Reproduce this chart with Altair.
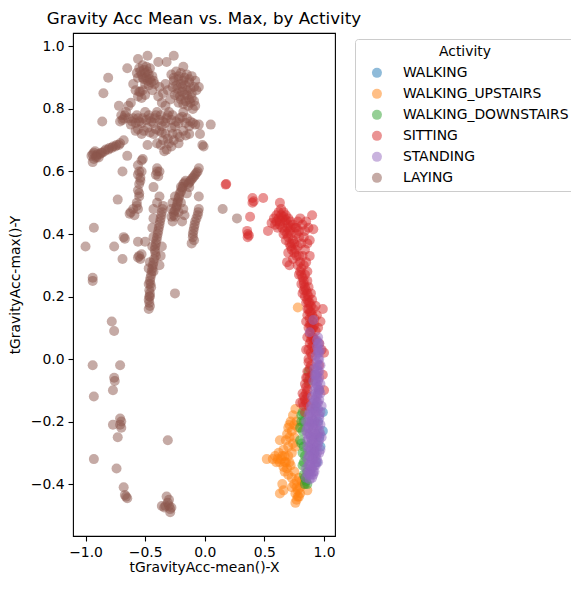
import altair as alt
import pandas as pd

activities = ["WALKING", "WALKING_UPSTAIRS", "WALKING_DOWNSTAIRS", "SITTING", "STANDING", "LAYING"]
colors = ["#1f77b4", "#ff7f0e", "#2ca02c", "#d62728", "#9467bd", "#8c564b"]

laying_pts = [
    (-0.56, 0.96), (-0.48, 0.97), (-0.26, 0.97), (-0.39, 0.95), (-0.32, 0.95), (-0.65, 0.93),
    (-0.18, 0.935), (-0.81, 0.90), (-0.85, 0.85), (-0.72, 0.81), (-0.62, 0.82), (-0.64, 0.81),
    (-0.86, 0.76), (0.05, 0.75), (-0.01, 0.68), (-0.04, 0.72), (-0.05, 0.87), (-0.02, 0.685),
    (-0.65, 0.65), (-0.48, 0.685), (-0.60, 0.88), (-0.44, 0.86),
    (-0.55, 0.93), (-0.52, 0.94), (-0.49, 0.935), (-0.46, 0.93), (-0.53, 0.91), (-0.50, 0.915),
    (-0.47, 0.91), (-0.44, 0.905), (-0.51, 0.895), (-0.48, 0.89), (-0.45, 0.885), (-0.42, 0.88),
    (-0.56, 0.90),
    (-0.54, 0.92), (-0.51, 0.925), (-0.48, 0.92), (-0.52, 0.90), (-0.49, 0.90), (-0.46, 0.895),
    (-0.50, 0.88), (-0.47, 0.875), (-0.43, 0.89), (-0.57, 0.915),
    (-0.38, 0.87), (-0.35, 0.85), (-0.33, 0.88), (-0.36, 0.82), (-0.33, 0.81), (-0.39, 0.84),
    (-0.31, 0.86),
    (-0.28, 0.91), (-0.24, 0.92), (-0.20, 0.915), (-0.15, 0.91), (-0.11, 0.905), (-0.08, 0.89),
    (-0.26, 0.89), (-0.22, 0.895), (-0.18, 0.89), (-0.13, 0.885), (-0.09, 0.87), (-0.27, 0.87),
    (-0.23, 0.865), (-0.19, 0.87), (-0.15, 0.86), (-0.11, 0.85), (-0.25, 0.845), (-0.21, 0.84),
    (-0.17, 0.845), (-0.13, 0.83), (-0.09, 0.825), (-0.22, 0.82), (-0.18, 0.815), (-0.14, 0.81),
    (-0.10, 0.80), (-0.29, 0.83),
    (-0.26, 0.90), (-0.22, 0.905), (-0.17, 0.90), (-0.13, 0.895), (-0.24, 0.875), (-0.20, 0.88),
    (-0.16, 0.875), (-0.12, 0.865), (-0.23, 0.85), (-0.19, 0.855), (-0.15, 0.845), (-0.11, 0.835),
    (-0.20, 0.83), (-0.16, 0.825), (-0.12, 0.82), (-0.07, 0.86), (-0.08, 0.81),
    (-0.58, 0.86), (-0.55, 0.855), (-0.52, 0.86), (-0.56, 0.84), (-0.53, 0.835), (-0.50, 0.845),
    (-0.54, 0.855),
    (-0.70, 0.78), (-0.68, 0.77), (-0.71, 0.76), (-0.66, 0.79), (-0.62, 0.75), (-0.60, 0.77),
    (-0.57, 0.78), (-0.55, 0.76), (-0.52, 0.77), (-0.50, 0.79), (-0.47, 0.78), (-0.45, 0.76),
    (-0.42, 0.77), (-0.40, 0.79), (-0.37, 0.78), (-0.35, 0.76), (-0.32, 0.77), (-0.30, 0.79),
    (-0.27, 0.78), (-0.24, 0.76), (-0.21, 0.77), (-0.18, 0.79), (-0.15, 0.77), (-0.12, 0.76),
    (-0.08, 0.75), (-0.05, 0.75), (-0.58, 0.73), (-0.53, 0.72), (-0.48, 0.74), (-0.43, 0.72),
    (-0.38, 0.73), (-0.33, 0.72), (-0.28, 0.74), (-0.23, 0.72), (-0.18, 0.73), (-0.13, 0.72),
    (-0.35, 0.70), (-0.30, 0.69), (-0.26, 0.70), (-0.40, 0.69), (-0.22, 0.69), (-0.32, 0.67),
    (-0.69, 0.765), (-0.67, 0.78), (-0.64, 0.77), (-0.61, 0.76), (-0.58, 0.755), (-0.56, 0.77),
    (-0.53, 0.755), (-0.49, 0.765), (-0.46, 0.77), (-0.43, 0.755), (-0.41, 0.78), (-0.38, 0.765),
    (-0.36, 0.745), (-0.33, 0.755), (-0.31, 0.78), (-0.28, 0.765), (-0.25, 0.745), (-0.22, 0.755),
    (-0.19, 0.775), (-0.16, 0.755), (-0.13, 0.745), (-0.10, 0.755), (-0.56, 0.735), (-0.51, 0.73),
    (-0.46, 0.725), (-0.41, 0.735), (-0.36, 0.725), (-0.31, 0.705), (-0.27, 0.72), (-0.21, 0.71),
    (-0.16, 0.715), (-0.37, 0.685), (-0.28, 0.68), (-0.34, 0.665),
    (-0.94, 0.655), (-0.91, 0.65), (-0.88, 0.655), (-0.92, 0.665), (-0.86, 0.66), (-0.83, 0.67),
    (-0.80, 0.675), (-0.77, 0.68), (-0.74, 0.685), (-0.71, 0.69), (-0.68, 0.70), (-0.89, 0.645),
    (-0.93, 0.64), (-0.94, 0.63), (-0.69, 0.60), (-0.52, 0.64), (-0.53, 0.635),
    (-0.93, 0.66), (-0.90, 0.655), (-0.87, 0.66), (-0.84, 0.665), (-0.81, 0.67), (-0.78, 0.675),
    (-0.75, 0.68), (-0.72, 0.685), (-0.95, 0.65), (-0.91, 0.645),
    (-0.56, 0.62), (-0.55, 0.60), (-0.54, 0.58), (-0.55, 0.56), (-0.56, 0.54), (-0.55, 0.52),
    (-0.57, 0.50), (-0.56, 0.48), (-0.54, 0.57), (-0.56, 0.59), (-0.55, 0.53), (-0.57, 0.49),
    (-0.60, 0.48), (-0.62, 0.47), (-0.59, 0.46), (-0.63, 0.465), (-0.53, 0.60),
    (-0.56, 0.375), (-0.50, 0.375), (-0.68, 0.39), (-0.67, 0.385),
    (-0.55, 0.33), (-0.54, 0.32), (-0.56, 0.325), (-0.53, 0.335),
    (-0.40, 0.61), (-0.38, 0.60), (-0.39, 0.585), (-0.41, 0.59), (-0.40, 0.60),
    (-0.43, 0.55), (-0.38, 0.52), (-0.40, 0.50), (-0.43, 0.48),
    (-0.35, 0.49), (-0.36, 0.47), (-0.37, 0.45), (-0.38, 0.43), (-0.39, 0.41), (-0.40, 0.39),
    (-0.41, 0.37), (-0.42, 0.35), (-0.41, 0.33), (-0.43, 0.31), (-0.44, 0.29), (-0.45, 0.27),
    (-0.46, 0.25), (-0.45, 0.23), (-0.46, 0.21), (-0.47, 0.19), (-0.46, 0.17), (-0.47, 0.16),
    (-0.355, 0.48), (-0.365, 0.46), (-0.375, 0.44), (-0.385, 0.42), (-0.395, 0.40), (-0.405, 0.38),
    (-0.415, 0.36), (-0.415, 0.34), (-0.425, 0.32), (-0.435, 0.30), (-0.445, 0.28), (-0.455, 0.26),
    (-0.455, 0.24), (-0.465, 0.22), (-0.465, 0.20), (-0.465, 0.18),
    (-0.43, 0.45), (-0.44, 0.42), (-0.43, 0.39), (-0.44, 0.36), (-0.36, 0.36), (-0.37, 0.33),
    (-0.38, 0.30), (-0.46, 0.31), (-0.47, 0.29), (-0.43, 0.28),
    (-0.16, 0.57), (-0.18, 0.56), (-0.19, 0.545), (-0.21, 0.53), (-0.22, 0.515), (-0.23, 0.50),
    (-0.24, 0.485), (-0.26, 0.47), (-0.25, 0.455), (-0.27, 0.44), (-0.28, 0.455), (-0.20, 0.55),
    (-0.17, 0.565), (-0.185, 0.55), (-0.20, 0.535), (-0.215, 0.52), (-0.225, 0.505), (-0.235, 0.49),
    (-0.25, 0.475), (-0.26, 0.46),
    (-0.27, 0.50), (-0.28, 0.48), (-0.25, 0.52), (-0.20, 0.50), (-0.18, 0.48), (-0.17, 0.46),
    (-0.19, 0.44), (-0.22, 0.47), (-0.15, 0.53), (-0.13, 0.55),
    (-0.06, 0.60), (-0.08, 0.59), (-0.10, 0.58), (-0.12, 0.57), (-0.14, 0.56), (-0.05, 0.61),
    (-0.07, 0.595), (-0.09, 0.585), (-0.11, 0.575), (-0.13, 0.565),
    (-0.05, 0.48), (-0.06, 0.46), (-0.08, 0.44), (-0.09, 0.42), (-0.10, 0.40), (-0.09, 0.38),
    (-0.11, 0.37), (-0.05, 0.52),
    (-0.055, 0.47), (-0.07, 0.45), (-0.085, 0.43), (-0.095, 0.41), (-0.10, 0.39),
    (-0.73, 0.51), (-0.93, 0.42), (-1.0, 0.36), (-0.76, 0.36), (-0.69, 0.32), (-0.94, 0.26),
    (0.15, 0.48), (0.27, 0.45),
    (-0.47, 0.24), (-0.46, 0.20), (-0.25, 0.21), (-0.94, 0.25), (-0.78, 0.12), (-0.76, 0.09),
    (-0.94, -0.02), (-0.71, -0.02), (-0.76, -0.06), (-0.755, -0.07), (-0.77, -0.10), (-0.93, -0.12),
    (-0.71, -0.19), (-0.70, -0.20), (-0.71, -0.21), (-0.70, -0.22), (-0.77, -0.21), (-0.73, -0.25),
    (-0.31, -0.26), (-0.93, -0.32), (-0.74, -0.35), (-0.68, -0.41), (-0.66, -0.44), (-0.65, -0.445),
    (-0.67, -0.435),
    (-0.36, -0.47), (-0.34, -0.475), (-0.33, -0.47), (-0.31, -0.46), (-0.30, -0.45), (-0.30, -0.47),
    (-0.29, -0.48), (-0.28, -0.475), (-0.29, -0.49), (-0.32, -0.44),
]

walking_pts = [
    (0.93, -0.15), (0.95, -0.20), (0.96, -0.25), (0.97, -0.28), (0.99, -0.17), (0.99, -0.23),
    (0.96, -0.10), (0.92, -0.30), (0.94, -0.33),
]

upstairs_pts = [
    (0.72, -0.20), (0.74, -0.18), (0.76, -0.16), (0.70, -0.22), (0.73, -0.23), (0.63, -0.26),
    (0.68, -0.26), (0.70, -0.28), (0.66, -0.29), (0.62, -0.30), (0.59, -0.31), (0.57, -0.32),
    (0.60, -0.33), (0.64, -0.32), (0.67, -0.33), (0.70, -0.31), (0.73, -0.30), (0.66, -0.345),
    (0.69, -0.35), (0.72, -0.34), (0.75, -0.36), (0.65, -0.40), (0.66, -0.42), (0.63, -0.43),
    (0.73, -0.41), (0.76, -0.43), (0.78, -0.42), (0.80, -0.41), (0.83, -0.40), (0.86, -0.42),
    (0.77, -0.45), (0.76, -0.46), (0.79, -0.44), (0.78, 0.165), (0.79, -0.38), (0.77, -0.39),
    (0.75, -0.25), (0.78, -0.22), (0.52, -0.32),
    (0.71, -0.21), (0.69, -0.24), (0.71, -0.25), (0.67, -0.31), (0.65, -0.31), (0.63, -0.33),
    (0.61, -0.32), (0.68, -0.33), (0.71, -0.33), (0.67, -0.36), (0.70, -0.37), (0.73, -0.38),
    (0.75, -0.40), (0.77, -0.41), (0.78, -0.44), (0.80, -0.43), (0.81, -0.39), (0.74, -0.27),
    (0.76, -0.28), (0.77, -0.20), (0.75, -0.21),
]

downstairs_pts = [
    (0.82, -0.17), (0.81, -0.20), (0.82, -0.23), (0.80, -0.26), (0.83, -0.28), (0.84, -0.31),
    (0.82, -0.34), (0.83, -0.37), (0.85, -0.39), (0.84, -0.40), (0.87, -0.04), (0.87, -0.07),
    (0.83, -0.20), (0.82, -0.30), (0.86, -0.36),
    (0.81, -0.18), (0.80, -0.22), (0.81, -0.27), (0.83, -0.33), (0.84, -0.38), (0.86, -0.40),
]

sitting_pts = [
    (0.18, 0.56), (0.175, 0.558), (0.40, 0.515), (0.40, 0.50), (0.41, 0.505), (0.49, 0.515),
    (0.63, 0.50), (0.36, 0.40), (0.36, 0.39), (0.37, 0.395), (0.38, 0.455), (0.56, 0.435),
    (0.53, 0.41), (0.355, 0.41),
    (0.58, 0.45), (0.60, 0.44), (0.62, 0.47), (0.64, 0.48), (0.66, 0.47), (0.68, 0.46),
    (0.70, 0.45), (0.72, 0.44), (0.65, 0.45), (0.63, 0.43), (0.61, 0.42), (0.59, 0.43),
    (0.67, 0.44), (0.74, 0.43), (0.76, 0.42), (0.78, 0.44), (0.80, 0.45), (0.82, 0.43),
    (0.85, 0.44), (0.87, 0.42), (0.84, 0.41), (0.69, 0.42), (0.66, 0.40), (0.68, 0.38),
    (0.70, 0.39), (0.72, 0.40), (0.74, 0.38), (0.77, 0.40), (0.79, 0.39), (0.81, 0.37),
    (0.78, 0.36), (0.76, 0.35), (0.72, 0.36), (0.70, 0.34), (0.74, 0.32), (0.77, 0.33),
    (0.80, 0.31), (0.82, 0.33), (0.84, 0.35), (0.78, 0.30), (0.69, 0.31), (0.71, 0.30),
    (0.90, 0.46), (0.91, 0.415), (0.88, 0.38), (0.88, 0.33),
    (0.80, 0.28), (0.82, 0.26), (0.84, 0.27), (0.86, 0.25), (0.83, 0.24), (0.85, 0.22),
    (0.87, 0.23), (0.89, 0.21), (0.84, 0.20), (0.86, 0.19), (0.88, 0.18), (0.90, 0.19),
    (0.87, 0.16), (0.89, 0.15), (0.91, 0.16), (0.93, 0.17), (0.88, 0.13), (0.90, 0.12),
    (0.92, 0.13), (0.94, 0.14), (0.85, 0.12), (0.87, 0.10), (0.89, 0.09), (0.91, 0.10),
    (0.93, 0.09), (0.95, 0.10), (0.99, 0.16), (0.97, 0.12),
    (0.86, 0.07), (0.88, 0.05), (0.90, 0.04), (0.92, 0.06), (0.96, 0.05), (0.98, 0.03),
    (1.0, 0.02), (0.85, 0.03), (0.87, 0.00), (0.89, -0.02), (0.86, -0.04), (0.88, -0.06),
    (0.84, -0.08), (0.86, -0.10), (0.83, -0.12), (0.85, -0.14), (0.82, -0.11), (0.80, -0.14),
    (0.99, -0.05), (1.0, -0.10), (0.84, -0.17), (0.87, -0.15), (0.96, -0.02),
    (0.60, 0.46), (0.62, 0.45), (0.64, 0.46), (0.66, 0.455), (0.68, 0.445), (0.70, 0.43),
    (0.72, 0.42), (0.71, 0.41), (0.69, 0.40), (0.67, 0.41), (0.65, 0.42), (0.63, 0.44),
    (0.73, 0.37), (0.75, 0.37), (0.75, 0.34), (0.73, 0.35), (0.71, 0.37), (0.79, 0.33),
    (0.81, 0.29), (0.79, 0.27), (0.81, 0.24), (0.83, 0.22), (0.82, 0.21), (0.85, 0.18),
    (0.87, 0.20), (0.86, 0.14), (0.88, 0.15), (0.90, 0.14), (0.89, 0.11), (0.91, 0.07),
    (0.93, 0.06), (0.90, 0.07), (0.88, 0.08), (0.92, 0.03), (0.90, 0.01), (0.88, -0.03),
    (0.90, -0.05), (0.87, -0.08), (0.85, -0.06), (0.86, -0.12), (0.84, -0.13), (0.77, 0.42),
    (0.79, 0.41), (0.83, 0.39), (0.86, 0.37), (0.83, 0.30), (0.85, 0.31), (0.86, 0.28),
    (0.81, 0.27), (0.83, 0.25), (0.84, 0.23), (0.86, 0.21), (0.87, 0.18), (0.89, 0.17),
    (0.86, 0.16), (0.88, 0.11), (0.90, 0.10), (0.92, 0.11), (0.89, 0.06), (0.91, 0.05),
    (0.87, 0.03), (0.89, 0.02), (0.87, -0.01), (0.86, -0.06), (0.85, -0.09), (0.85, -0.11),
    (0.83, -0.15), (0.82, -0.14),
]

standing_pts = [
    (0.91, 0.125), (0.88, 0.086),
    (0.95, 0.07), (0.96, 0.05), (0.94, 0.04), (0.97, 0.03), (0.95, 0.02), (0.93, 0.01),
    (0.96, 0.00), (0.94, -0.01), (0.97, -0.02), (0.92, -0.03), (0.95, -0.04), (0.93, -0.05),
    (0.96, -0.06), (0.91, -0.07), (0.94, -0.08), (0.97, -0.08), (0.92, -0.10), (0.95, -0.11),
    (0.90, -0.12), (0.93, -0.13), (0.96, -0.13), (0.89, -0.15), (0.92, -0.16), (0.95, -0.16),
    (0.98, -0.15), (0.87, -0.18), (0.90, -0.19), (0.93, -0.19), (0.96, -0.19), (0.85, -0.20),
    (0.88, -0.21), (0.91, -0.22), (0.94, -0.22), (0.97, -0.21), (0.85, -0.23), (0.88, -0.24),
    (0.91, -0.25), (0.94, -0.25), (0.97, -0.24), (0.86, -0.26), (0.89, -0.27), (0.92, -0.28),
    (0.95, -0.27), (0.87, -0.29), (0.90, -0.30), (0.93, -0.31), (0.96, -0.30), (0.86, -0.32),
    (0.89, -0.33), (0.92, -0.34), (0.95, -0.33), (0.85, -0.35), (0.88, -0.36), (0.91, -0.36),
    (0.85, -0.38), (0.88, -0.385), (0.91, -0.37),
    (0.94, 0.06), (0.96, 0.02), (0.94, -0.03), (0.96, -0.04), (0.93, -0.07), (0.95, -0.09),
    (0.93, -0.11), (0.91, -0.14), (0.94, -0.14), (0.97, -0.17), (0.91, -0.17), (0.89, -0.20),
    (0.92, -0.20), (0.95, -0.21), (0.87, -0.22), (0.90, -0.23), (0.93, -0.24), (0.96, -0.23),
    (0.87, -0.25), (0.90, -0.26), (0.93, -0.27), (0.96, -0.26), (0.88, -0.28), (0.91, -0.29),
    (0.94, -0.30), (0.88, -0.31), (0.91, -0.32), (0.94, -0.32), (0.87, -0.34), (0.90, -0.35),
    (0.93, -0.34), (0.87, -0.37), (0.90, -0.38), (0.86, -0.365),
    (0.95, 0.05), (0.95, 0.03), (0.95, 0.00), (0.95, -0.02), (0.94, -0.05), (0.94, -0.06),
    (0.95, -0.07), (0.93, -0.09), (0.96, -0.10), (0.94, -0.12), (0.92, -0.13), (0.95, -0.14),
    (0.90, -0.16), (0.93, -0.17), (0.96, -0.18), (0.89, -0.18), (0.92, -0.21), (0.90, -0.21),
    (0.95, -0.24), (0.92, -0.24), (0.89, -0.25), (0.91, -0.27), (0.94, -0.28), (0.89, -0.29),
    (0.92, -0.30), (0.90, -0.32), (0.93, -0.33), (0.89, -0.35), (0.92, -0.36), (0.89, -0.37),
    (0.88, -0.34), (0.87, -0.31), (0.86, -0.28), (0.86, -0.24), (0.86, -0.22), (0.87, -0.20),
    (0.88, -0.17), (0.92, -0.05), (0.97, -0.11), (0.98, -0.25), (0.97, -0.29),
]

x_ticks = [-1.0, -0.5, 0.0, 0.5, 1.0]
y_ticks = [-0.4, -0.2, 0.0, 0.2, 0.4, 0.6, 0.8, 1.0]

groups = [
    ("LAYING", laying_pts),
    ("WALKING", walking_pts),
    ("WALKING_UPSTAIRS", upstairs_pts),
    ("WALKING_DOWNSTAIRS", downstairs_pts),
    ("SITTING", sitting_pts),
    ("STANDING", standing_pts),
]
rows = []
for name, pts in groups:
    for x, y in pts:
        rows.append({"mean_x": x, "max_y": y, "Activity": name})
df = pd.DataFrame(rows)

FONT = "DejaVu Sans"

chart = alt.Chart(df).mark_circle(size=100, opacity=0.5, strokeWidth=0).encode(
    x=alt.X("mean_x:Q", title="tGravityAcc-mean()-X",
            scale=alt.Scale(domain=[-1.105, 1.092], nice=False, zero=False),
            axis=alt.Axis(values=x_ticks, format=".1f", titlePadding=2)),
    y=alt.Y("max_y:Q", title="tGravityAcc-max()-Y",
            scale=alt.Scale(domain=[-0.566, 1.043], nice=False, zero=False),
            axis=alt.Axis(values=y_ticks, format=".1f", titlePadding=8)),
    color=alt.Color("Activity:N",
                    scale=alt.Scale(domain=activities, range=colors),
                    legend=alt.Legend(
                        title="Activity", orient="none", legendX=282, legendY=6,
                        symbolType="circle", symbolSize=100, symbolOpacity=0.5,
                        symbolStrokeWidth=0, symbolOffset=9,
                        labelFontSize=13.9, labelFont=FONT, labelColor="black",
                        labelOffset=19, rowPadding=6, labelLimit=400,
                        titleFontSize=13.9, titleFont=FONT, titleFontWeight="normal",
                        titleColor="black", titleAnchor="middle", titlePadding=7,
                        padding=6, strokeColor="#cccccc", fillColor="white",
                        cornerRadius=3)),
).properties(
    width=262, height=503,
    title=alt.Title("Gravity Acc Mean vs. Max, by Activity", font=FONT, fontSize=16.7,
                    fontWeight="normal", color="black", anchor="middle", offset=5),
    autosize=alt.AutoSizeParams(type="none"),
    padding={"left": 65, "top": 25, "right": 236, "bottom": 46},
).configure_view(
    stroke="black", strokeWidth=1.1
).configure_axis(
    domain=False, grid=False, ticks=True, tickColor="black", tickSize=5, tickWidth=1.1,
    labelFont=FONT, labelFontSize=13.9, labelColor="black", labelPadding=4,
    titleFont=FONT, titleFontSize=13.9, titleFontWeight="normal", titleColor="black",
)

chart.save("out.html", embed_options={"renderer": "svg", "actions": False})
